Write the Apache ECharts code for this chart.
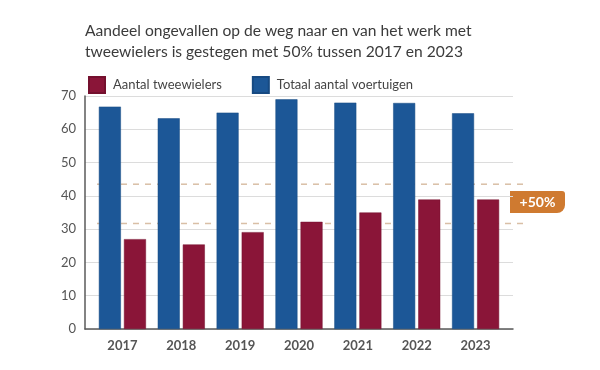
<!DOCTYPE html>
<html>
<head>
<meta charset="utf-8">
<script src="https://cdn.jsdelivr.net/npm/echarts@6/dist/echarts.min.js"></script>
<style>html,body{margin:0;padding:0;background:#fff}#c{width:600px;height:370px}</style>
</head>
<body>
<div id="c"></div>
<script>
var years = ['2017', '2018', '2019', '2020', '2021', '2022', '2023'];
var totaalVoertuigen = [66.8, 63.3, 65.0, 69.0, 68.0, 67.9, 64.8];
var aantalTweewielers = [27.0, 25.4, 29.1, 32.2, 35.0, 38.9, 38.9];
var referenceLines = [43.5, 31.7];
var yTicks = [0, 10, 20, 30, 40, 50, 60, 70];
var annotationLabel = '+50%';
var titleText = 'Aandeel ongevallen op de weg naar en van het werk met\ntweewielers is gestegen met 50% tussen 2017 en 2023';

var FONT = 'Lato, "Open Sans", sans-serif';
var RED = '#8A1538';
var BLUE = '#1C5797';
var yMin = yTicks[0], yMax = yTicks[yTicks.length - 1], yStep = yTicks[1] - yTicks[0];

var chart = echarts.init(document.getElementById('c'), null, {renderer: 'canvas'});

var dashSeries = referenceLines.map(function (v, i) {
  return {
    name: 'ref' + i, type: 'line', xAxisIndex: 2, yAxisIndex: 2,
    data: [[0, v], [1, v]], symbol: 'none', silent: true, z: 1,
    lineStyle: {color: '#D9BFA6', width: 1.5, type: [6, 6]}
  };
});

chart.setOption({
  animation: false,
  textStyle: {fontFamily: FONT},
  title: {
    text: titleText, left: 80, top: 15,
    textStyle: {fontFamily: FONT, fontSize: 15.6, fontWeight: 'normal', color: '#3b3b3b', lineHeight: 21}
  },
  legend: {
    left: 83, top: 71, itemWidth: 16, itemHeight: 16, itemGap: 30, icon: 'rect',
    data: ['Aantal tweewielers', 'Totaal aantal voertuigen'],
    textStyle: {fontFamily: FONT, fontSize: 13, color: '#444', padding: [0, 0, 0, 3]}
  },
  grid: [
    {left: 85, width: 428, top: 96, height: 233},
    {left: 93, width: 412, top: 96, height: 233},
    {left: 97, width: 426, top: 96, height: 233}
  ],
  xAxis: [
    {gridIndex: 0, type: 'value', min: 0, max: 1, axisLine: {show: true, onZero: false, lineStyle: {color: '#5a5a5a', width: 1.5}},
     axisTick: {show: false}, axisLabel: {show: false}, splitLine: {show: false}},
    {gridIndex: 1, type: 'category', data: years, axisLine: {show: false}, axisTick: {show: false},
     axisLabel: {color: '#555', fontSize: 13, margin: 10, fontFamily: FONT, fontWeight: 'bold'}},
    {gridIndex: 2, type: 'value', min: 0, max: 1, show: false}
  ],
  yAxis: [
    {gridIndex: 0, type: 'value', min: yMin, max: yMax, interval: yStep,
     axisLine: {show: true, lineStyle: {color: '#5a5a5a', width: 1.5}}, axisTick: {show: false},
     axisLabel: {color: '#555', fontSize: 13, margin: 9, fontFamily: FONT},
     splitLine: {show: true, lineStyle: {color: '#dcdcdc', width: 1}}},
    {gridIndex: 1, type: 'value', min: yMin, max: yMax, interval: yStep, show: false},
    {gridIndex: 2, type: 'value', min: yMin, max: yMax, interval: yStep, show: false}
  ],
  series: [
    {name: 'Totaal aantal voertuigen', type: 'bar', xAxisIndex: 1, yAxisIndex: 1, data: totaalVoertuigen,
     barWidth: 22, barGap: '14%', z: 3, itemStyle: {color: BLUE, borderColor: '#174a82', borderWidth: 0.5}},
    {name: 'Aantal tweewielers', type: 'bar', xAxisIndex: 1, yAxisIndex: 1, data: aantalTweewielers,
     barWidth: 22, barGap: '14%', z: 3, itemStyle: {color: RED, borderColor: '#74102e', borderWidth: 0.5}}
  ].concat(dashSeries),
  graphic: [{
    type: 'group', left: 510, top: 191,
    children: [
      {type: 'rect', shape: {x: 0, y: 0, width: 55, height: 22, r: [0, 3, 8, 0]}, style: {fill: '#CF7A30'}},
      {type: 'text', x: 27.5, y: 11, style: {text: annotationLabel, fill: '#fff', font: 'bold 14px ' + FONT, align: 'center', verticalAlign: 'middle'}}
    ]
  }]
});
</script>
</body>
</html>
